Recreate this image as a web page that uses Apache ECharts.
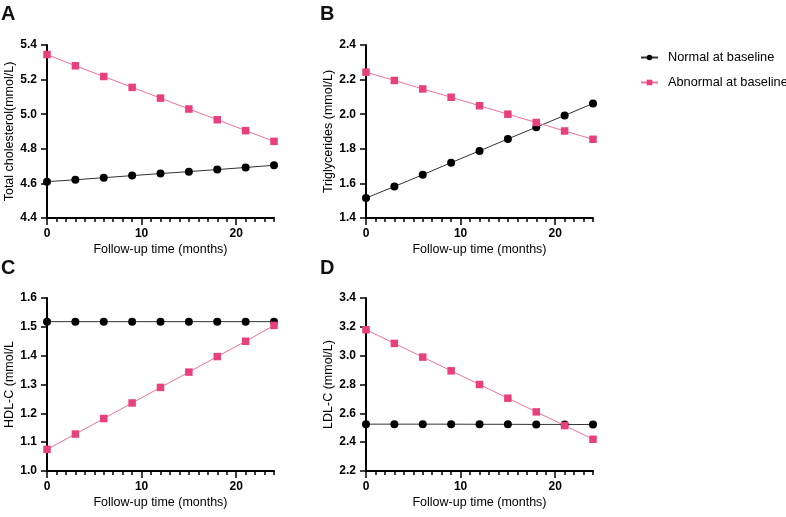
<!DOCTYPE html>
<html>
<head>
<meta charset="utf-8">
<script src="https://cdn.jsdelivr.net/npm/echarts@6/dist/echarts.min.js"></script>
<style>
  html, body { margin: 0; padding: 0; background: #fff; }
  #chart { width: 786px; height: 517px; }
</style>
</head>
<body>
<div id="chart"></div>
<script>
const months = [0, 3, 6, 9, 12, 15, 18, 21, 24];
const majorTicks = [0, 10, 20];

const seriesNames = ["Normal at baseline", "Abnormal at baseline"];

const tcNormal = [4.61, 4.621, 4.633, 4.645, 4.657, 4.668, 4.68, 4.692, 4.705];
const tcAbnormal = [5.345, 5.28, 5.218, 5.155, 5.093, 5.03, 4.968, 4.905, 4.843];

const tgNormal = [1.515, 1.582, 1.65, 1.72, 1.788, 1.857, 1.925, 1.993, 2.062];
const tgAbnormal = [2.243, 2.195, 2.146, 2.098, 2.049, 2.0, 1.952, 1.903, 1.855];

const hdlNormal = [1.518, 1.518, 1.518, 1.518, 1.518, 1.518, 1.518, 1.518, 1.518];
const hdlAbnormal = [1.075, 1.128, 1.182, 1.236, 1.29, 1.343, 1.397, 1.45, 1.505];

const ldlNormal = [2.525, 2.525, 2.525, 2.525, 2.524, 2.524, 2.523, 2.523, 2.522];
const ldlAbnormal = [3.18, 3.085, 2.99, 2.895, 2.8, 2.705, 2.61, 2.515, 2.42];

const panels = [
  { letter: "A", title: "Total cholesterol(mmol/L)", min: 4.4, max: 5.4, interval: 0.2, normal: tcNormal, abnormal: tcAbnormal },
  { letter: "B", title: "Triglycerides (mmol/L)", min: 1.4, max: 2.4, interval: 0.2, normal: tgNormal, abnormal: tgAbnormal },
  { letter: "C", title: "HDL-C (mmol/L", min: 1.0, max: 1.6, interval: 0.1, normal: hdlNormal, abnormal: hdlAbnormal },
  { letter: "D", title: "LDL-C (mmol/L)", min: 2.2, max: 3.4, interval: 0.2, normal: ldlNormal, abnormal: ldlAbnormal },
];

const FONT = "Liberation Sans";
const PINK = "#e8407d";
const PINK_LINE = "#f0709c";

// grid boxes (left, top) for each panel
const boxes = [
  { left: 47, top: 45 },
  { left: 366, top: 45 },
  { left: 47, top: 298 },
  { left: 366, top: 298 },
];
const W = 227, H = 173;

const grids = [], xAxes = [], yAxes = [], series = [], graphics = [];

panels.forEach((p, i) => {
  const b = boxes[i];
  grids.push({ left: b.left, top: b.top, width: W, height: H });

  // minor ticks axis (carries the data)
  xAxes.push({
    type: "value", gridIndex: i, position: "bottom", min: 0, max: 24, interval: 1,
    axisLine: { lineStyle: { color: "#000", width: 2 } },
    axisTick: { length: 4, lineStyle: { color: "#000", width: 1.5 } },
    axisLabel: { show: false },
    splitLine: { show: false },
  });
  // major ticks + labels
  xAxes.push({
    type: "value", gridIndex: i, position: "bottom", min: 0, max: 24,
    axisLine: { show: false },
    axisTick: { show: true, length: 7, customValues: majorTicks, lineStyle: { color: "#000", width: 1.5 } },
    axisLabel: { customValues: majorTicks, color: "#000", fontFamily: FONT, fontWeight: "bold", fontSize: 12, margin: 10 },
    splitLine: { show: false },
    name: "Follow-up time (months)", nameLocation: "middle", nameGap: 25,
    nameTextStyle: { color: "#000", fontFamily: FONT, fontSize: 12.5 },
  });

  yAxes.push({
    type: "value", gridIndex: i, min: p.min, max: p.max, interval: p.interval,
    axisLine: { show: true, lineStyle: { color: "#000", width: 2 } },
    axisTick: { show: true, length: 6, lineStyle: { color: "#000", width: 1.5 } },
    axisLabel: { color: "#000", fontFamily: FONT, fontWeight: "bold", fontSize: 12, margin: 10,
      formatter: (v) => v.toFixed(1) },
    splitLine: { show: false },
    name: p.title, nameLocation: "middle", nameGap: 31,
    nameTextStyle: { color: "#000", fontFamily: FONT, fontSize: 12.5 },
  });

  series.push({
    name: seriesNames[0], type: "line", xAxisIndex: i * 2, yAxisIndex: i,
    data: months.map((m, k) => [m, p.normal[k]]),
    symbol: "circle", symbolSize: 8,
    itemStyle: { color: "#000" },
    lineStyle: { color: "#333", width: 1 },
    z: 3,
  });
  series.push({
    name: seriesNames[1], type: "line", xAxisIndex: i * 2, yAxisIndex: i,
    data: months.map((m, k) => [m, p.abnormal[k]]),
    symbol: "rect", symbolSize: 7.5,
    itemStyle: { color: PINK },
    lineStyle: { color: PINK_LINE, width: 1 },
    z: 4,
  });

  graphics.push({
    type: "text", left: i % 2 === 0 ? 1 : 320, top: i < 2 ? 4 : 258,
    style: { text: p.letter, font: "bold 20px '" + FONT + "'", fill: "#111" },
  });
});

const chart = echarts.init(document.getElementById("chart"));
chart.setOption({
  animation: false,
  backgroundColor: "#fff",
  grid: grids,
  xAxis: xAxes,
  yAxis: yAxes,
  series: series,
  graphic: graphics,
  legend: {
    data: seriesNames,
    orient: "vertical", left: 640, top: 51, padding: 0,
    itemWidth: 17, itemHeight: 7, itemGap: 12,
    textStyle: { color: "#000", fontFamily: FONT, fontSize: 12.75, padding: [0, 0, 0, 5] },
  },
});
</script>
</body>
</html>
